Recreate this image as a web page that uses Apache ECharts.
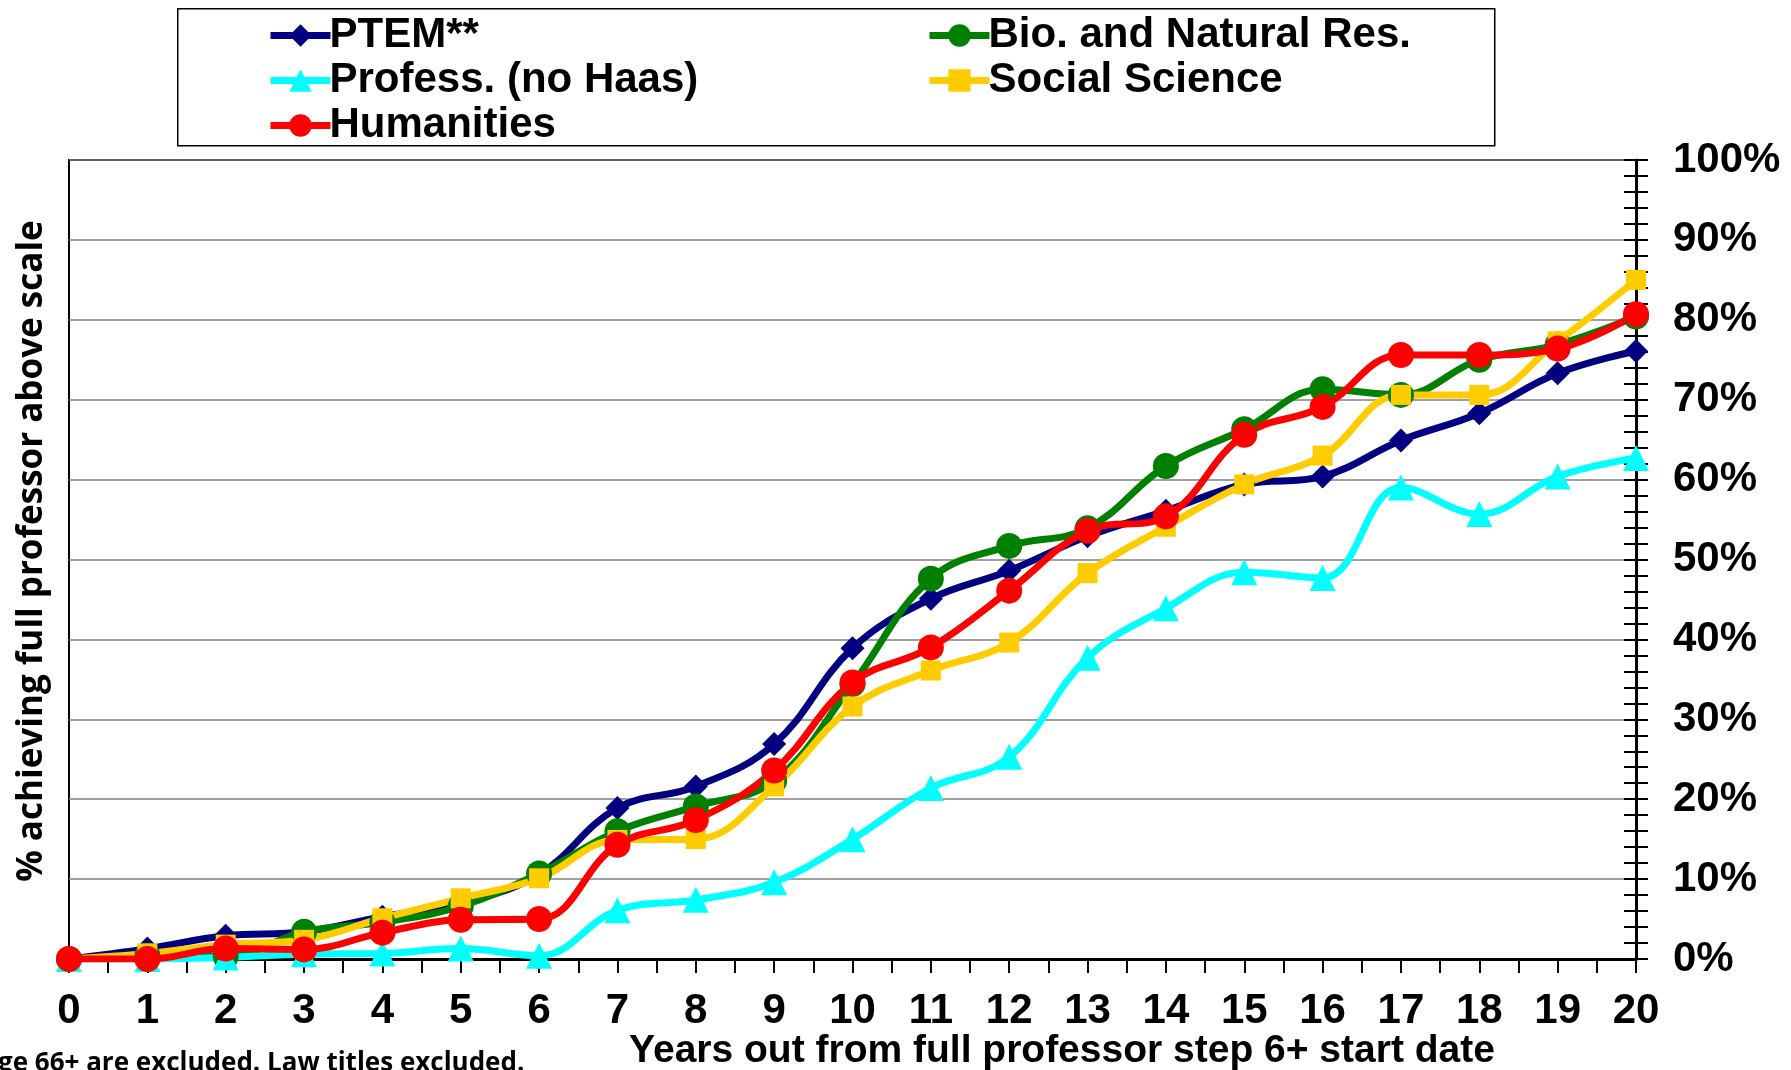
<!DOCTYPE html>
<html>
<head>
<meta charset="utf-8">
<script src="https://cdn.jsdelivr.net/npm/echarts@6/dist/echarts.min.js"></script>
<style>
  html, body { margin: 0; padding: 0; background: #fff; }
  #chart { width: 1791px; height: 1070px; }
</style>
</head>
<body>
<div id="chart"></div>
<script>
// years out from step 6+ start
const years = [0, 1, 2, 3, 4, 5, 6, 7, 8, 9, 10, 11, 12, 13, 14, 15, 16, 17, 18, 19, 20];

// % achieving full professor above scale
const ptem = [0, 1.3, 2.9, 3.4, 5.3, 7.0, 10.6, 18.9, 21.6, 26.9, 38.9, 45.1, 48.6, 52.9, 56.1, 59.4, 60.4, 64.9, 68.3, 73.3, 76.1];
const bio = [0, 0.4, 0.3, 3.4, 4.6, 6.6, 10.7, 16.0, 19.1, 22.3, 34.4, 47.6, 51.7, 53.9, 61.7, 66.3, 71.3, 70.6, 75.0, 76.9, 80.4];
const profess = [0, 0, 0.2, 0.6, 0.7, 1.3, 0.4, 6.1, 7.4, 9.6, 15.0, 21.4, 25.3, 37.7, 43.9, 48.4, 47.7, 59.0, 55.7, 60.4, 62.7];
const social = [0, 0.7, 1.8, 2.4, 5.1, 7.6, 10.1, 14.9, 15.0, 21.6, 31.6, 36.1, 39.6, 48.3, 54.1, 59.4, 63.0, 70.6, 70.6, 77.3, 85.0];
const humanities = [0, 0, 1.3, 1.2, 3.3, 4.9, 5.0, 14.3, 17.4, 23.6, 34.6, 39.0, 46.1, 53.6, 55.4, 65.6, 69.1, 75.6, 75.6, 76.4, 80.7];

const seriesNames = ['PTEM**', 'Bio. and Natural Res.', 'Profess. (no Haas)', 'Social Science', 'Humanities'];
const legendCol1 = ['PTEM**', 'Profess. (no Haas)', 'Humanities'];
const legendCol2 = ['Bio. and Natural Res.', 'Social Science'];

const FONT = "'Liberation Sans', Arial, sans-serif";
const SANS2 = "'Open Sans', 'Noto Sans', sans-serif";

const pairs = (vals) => vals.map((v, i) => [years[i], v]);

const mkLine = (name, vals, color, symbol, size) => ({
  name,
  type: 'line',
  data: pairs(vals),
  smooth: 0.4,
  symbol,
  symbolSize: size,
  lineStyle: { color, width: 7 },
  itemStyle: { color },
  emphasis: { disabled: true },
});

const legendBase = {
  orient: 'vertical',
  itemWidth: 60,
  itemHeight: 28,
  itemGap: 0,
  lineStyle: { width: 7 },
  textStyle: { fontFamily: FONT, fontWeight: 'bold', fontSize: 42, color: '#000', lineHeight: 45, padding: [0, 0, 0, -6] },
};

const grid = { left: 69, right: 155, top: 160, bottom: 111 };
const tickStyle = { color: '#000', width: 2 };

const option = {
  animation: false,
  backgroundColor: '#fff',
  grid: [
    Object.assign({ show: true, borderColor: '#000', borderWidth: 2 }, grid),
    Object.assign({ show: false }, grid),
  ],
  legend: [
    Object.assign({ left: 262, top: 8, data: legendCol1 }, legendBase),
    Object.assign({ left: 921, top: 8, data: legendCol2 }, legendBase),
  ],
  xAxis: [
    {
      type: 'value', min: 0, max: 20, interval: 1, gridIndex: 0, position: 'bottom',
      axisLine: { onZero: false, lineStyle: { color: '#000', width: 3 } },
      axisTick: { length: 14, lineStyle: tickStyle },
      minorTick: { show: true, splitNumber: 2, length: 14, lineStyle: tickStyle },
      axisLabel: { fontFamily: FONT, fontWeight: 'bold', fontSize: 42, color: '#000', margin: 31 },
      splitLine: { show: false },
    },
    {
      // second grid: the half-year ticks that poke up into the plot
      type: 'value', min: 0, max: 20, interval: 1, gridIndex: 1, position: 'bottom',
      axisLine: { show: false, onZero: false },
      axisTick: { show: false },
      minorTick: { show: true, splitNumber: 2, length: 9, lineStyle: tickStyle },
      axisLabel: { show: false, inside: true },
      splitLine: { show: false },
    },
  ],
  yAxis: [
    {
      type: 'value', min: 0, max: 100, interval: 10, position: 'right', gridIndex: 0,
      axisLine: { show: true, onZero: false, lineStyle: { color: '#000', width: 3 } },
      axisTick: { show: true, length: 12, lineStyle: tickStyle },
      minorTick: { show: true, splitNumber: 5, length: 12, lineStyle: tickStyle },
      axisLabel: { formatter: '{value}%', fontFamily: FONT, fontWeight: 'bold', fontSize: 42, color: '#000', margin: 37 },
      splitLine: { show: true, lineStyle: { color: '#808080', width: 1.5 } },
    },
    {
      type: 'value', min: 0, max: 100, interval: 10, position: 'right', gridIndex: 1,
      axisLine: { show: false, onZero: false },
      axisTick: { show: true, inside: true, length: 12, lineStyle: tickStyle },
      minorTick: { show: true, splitNumber: 5, length: 12, lineStyle: tickStyle },
      axisLabel: { show: false, inside: true },
      splitLine: { show: false },
    },
  ],
  series: [
    mkLine(seriesNames[0], ptem, '#000080', 'diamond', 24),
    mkLine(seriesNames[1], bio, '#008000', 'circle', 26),
    mkLine(seriesNames[2], profess, '#00FFFF', 'triangle', 26),
    mkLine(seriesNames[3], social, '#FFCC00', 'rect', 20),
    mkLine(seriesNames[4], humanities, '#FF0000', 'circle', 26),
  ],
  graphic: [
    {
      type: 'rect', left: 177, top: 8, z: -1,
      shape: { width: 1317, height: 137 },
      style: { fill: '#fff', stroke: '#000', lineWidth: 1.5 },
    },
    {
      type: 'text', x: 32, y: 551, rotation: Math.PI / 2,
      style: {
        text: '% achieving full professor above scale',
        fontFamily: SANS2, fontWeight: 'bold', fontSize: 35,
        fill: '#000', align: 'center', verticalAlign: 'middle',
      },
    },
    {
      type: 'text', x: 1062, y: 1051,
      style: {
        text: 'Years out from full professor step 6+ start date',
        fontFamily: FONT, fontWeight: 'bold', fontSize: 39,
        fill: '#000', align: 'center', verticalAlign: 'middle',
      },
    },
    {
      type: 'text', x: -2, y: 1064,
      style: {
        text: 'ge 66+ are excluded. Law titles excluded.',
        fontFamily: SANS2, fontWeight: 'bold', fontSize: 26,
        fill: '#000', align: 'left', verticalAlign: 'middle',
      },
    },
  ],
};

const chart = echarts.init(document.getElementById('chart'));
chart.setOption(option);
</script>
</body>
</html>
